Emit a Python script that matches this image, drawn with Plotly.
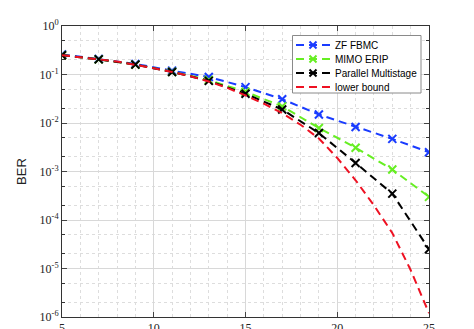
import plotly.graph_objects as go

x_mark = [5, 7, 9, 11, 13, 15, 17, 19, 21, 23, 25]
ber_zf = [0.26, 0.21, 0.165, 0.12, 0.089, 0.055, 0.031, 0.015, 0.0083, 0.0047, 0.0025]
ber_mimo = [0.25, 0.205, 0.16, 0.114, 0.077, 0.044, 0.022, 0.0079, 0.0031, 0.0011, 0.0003]
ber_par = [0.25, 0.205, 0.16, 0.113, 0.074, 0.040, 0.019, 0.0062, 0.0015, 0.00035, 0.000025]
x_lb = list(range(5, 26))
ber_lb = [0.25, 0.23, 0.205, 0.185, 0.16, 0.135, 0.113, 0.092, 0.072, 0.053, 0.037, 0.025,
          0.016, 0.0092, 0.0048, 0.0019, 0.00066, 0.0002, 0.000054, 0.0000093, 0.0000012]
names = ["ZF FBMC", "MIMO ERIP", "Parallel Multistage", "lower bound"]
colors = ["#1a3cff", "#66ee22", "#000000", "#ee1122"]
has_marker = [True, True, True, False]
ytick_vals = [1e-6, 1e-5, 1e-4, 1e-3, 1e-2, 1e-1, 1]
ytick_text = ["10<sup>-6</sup>", "10<sup>-5</sup>", "10<sup>-4</sup>", "10<sup>-3</sup>",
              "10<sup>-2</sup>", "10<sup>-1</sup>", "10<sup>0</sup>"]
xtick_vals = [5, 10, 15, 20, 25]

W, H = 474, 329
ML, MR, MT, MB = 62, 45, 26, 12
PW, PH = W - ML - MR, H - MT - MB


def px(xp):
    return (xp - ML) / PW


def py(yp):
    return (H - MB - yp) / PH


DASH = "8px,5px"
fig = go.Figure()
for name, ys, c in zip(names[:3], [ber_zf, ber_mimo, ber_par], colors[:3]):
    fig.add_trace(go.Scatter(x=x_mark, y=ys, name=name, mode="lines+markers",
                             line=dict(color=c, width=2, dash=DASH),
                             marker=dict(symbol="x-thin", size=8, line=dict(color=c, width=2))))
fig.add_trace(go.Scatter(x=x_lb, y=ber_lb, name=names[3], mode="lines",
                         line=dict(color=colors[3], width=2, dash=DASH)))

# custom compact legend (MATLAB style)
shapes = [dict(type="rect", xref="paper", yref="paper", layer="above",
               x0=px(292.5), x1=px(421), y0=py(93), y1=py(35.5),
               fillcolor="white", line=dict(color="#8a8a8a", width=1))]
annotations = []
row_y = [45, 59, 73, 87]
for name, c, mk, ry in zip(names, colors, has_marker, row_y):
    shapes.append(dict(type="line", xref="paper", yref="paper", layer="above",
                       x0=px(296), x1=px(330), y0=py(ry), y1=py(ry),
                       line=dict(color=c, width=2, dash=DASH)))
    if mk:
        cx, s = 313, 3.5
        shapes.append(dict(type="line", xref="paper", yref="paper", layer="above",
                           x0=px(cx - s), x1=px(cx + s), y0=py(ry - s), y1=py(ry + s),
                           line=dict(color=c, width=2)))
        shapes.append(dict(type="line", xref="paper", yref="paper", layer="above",
                           x0=px(cx - s), x1=px(cx + s), y0=py(ry + s), y1=py(ry - s),
                           line=dict(color=c, width=2)))
    annotations.append(dict(text=name, xref="paper", yref="paper", x=px(333), y=py(ry),
                            xanchor="left", yanchor="middle", showarrow=False,
                            font=dict(family="Liberation Sans", size=10, color="black")))

grid_c = "#d8d8d8"
fig.update_layout(
    width=W, height=H,
    margin=dict(l=ML, r=MR, t=MT, b=MB, autoexpand=False),
    paper_bgcolor="white", plot_bgcolor="white",
    showlegend=False,
    shapes=shapes, annotations=annotations,
    font=dict(family="Liberation Serif", size=12, color="#222222"),
)
fig.update_xaxes(range=[5, 25], tickvals=xtick_vals, ticks="inside", ticklen=5,
                 automargin=False,
                 showline=True, linecolor="#333333", linewidth=1, mirror="ticks",
                 showgrid=True, gridcolor=grid_c, gridwidth=1, zeroline=False,
                 minor=dict(dtick=1, showgrid=True, gridcolor="#dddddd", griddash="dot",
                            ticks=""),
                 tickfont=dict(family="Liberation Serif", size=12))
fig.update_yaxes(type="log", range=[-6, 0], tickvals=ytick_vals, ticktext=ytick_text,
                 ticks="inside", ticklen=5, automargin=False,
                 showline=True, linecolor="#333333", linewidth=1, mirror="ticks",
                 showgrid=True, gridcolor=grid_c, gridwidth=1, zeroline=False,
                 minor=dict(ticks="inside", ticklen=3, showgrid=True, gridcolor="#dddddd",
                            griddash="dot", tickcolor="#333333"),
                 title=dict(text="BER", font=dict(family="Liberation Sans", size=13, color="#222222"), standoff=10),
                 tickfont=dict(family="Liberation Serif", size=12))
fig.write_html("out.html")
